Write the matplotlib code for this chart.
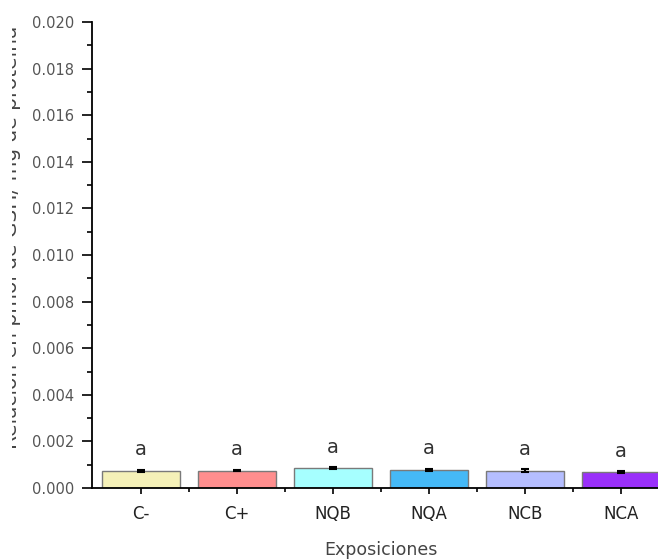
import matplotlib
matplotlib.use("Agg")
import matplotlib.pyplot as plt
from matplotlib.ticker import MultipleLocator, FixedLocator
from matplotlib.patches import Rectangle

plt.rcParams['font.family'] = ['DejaVu Sans']

categories = ["C-", "C+", "NQB", "NQA", "NCB", "NCA"]
values = [0.00074, 0.00075, 0.00085, 0.00078, 0.00075, 0.00069]
errors = [0.00004, 0.00004, 0.00005, 0.00004, 0.00005, 0.00004]
letters = ["a", "a", "a", "a", "a", "a"]
colors = ["#F5F1B8", "#FF8E8E", "#A6FFFF", "#45B9F7", "#B5BEFF", "#9A30FA"]

fig = plt.figure(figsize=(6.58, 5.60), dpi=100)
ax = fig.add_axes([92/658, 1-488/560, (669-92)/658, (488-22)/560])

x = list(range(1, len(categories)+1))
ax.bar(x, values, width=0.82, color=colors, edgecolor="#7a7a7a", linewidth=1.0, zorder=2)
ax.errorbar(x, values, yerr=errors, fmt='none', ecolor='black', elinewidth=1.5, capsize=3, capthick=1.5, zorder=3)
for xi, v, e, t in zip(x, values, errors, letters):
    ax.text(xi, v + e + 0.00045, t, ha='center', va='bottom', fontsize=14, color='#333333')

ax.set_xlim(0.49, 6.5)
ax.set_ylim(0, 0.020)
ax.yaxis.set_major_locator(MultipleLocator(0.002))
ax.yaxis.set_minor_locator(MultipleLocator(0.001))
ax.set_yticklabels([f"{v:.3f}" for v in ax.get_yticks()])
ax.set_xticks(x)
ax.set_xticklabels(categories, fontsize=12, color='#222222')
ax.xaxis.set_minor_locator(FixedLocator([1.5, 2.5, 3.5, 4.5, 5.5]))

ax.spines['top'].set_visible(False)
ax.spines['right'].set_visible(False)
ax.spines['left'].set_linewidth(1.3)
ax.spines['bottom'].set_linewidth(1.3)
ax.tick_params(axis='y', which='major', length=7, width=1.2, labelsize=10.5, labelcolor='#555555', direction='out', pad=6)
ax.tick_params(axis='y', which='minor', length=3.5, width=1.2, direction='out')
ax.tick_params(axis='x', which='major', length=4, width=1.2, direction='out', pad=8)
ax.tick_params(axis='x', which='minor', length=3, width=1.2, direction='out')

ax.set_xlabel("Exposiciones", fontsize=12.5, color='#444444', labelpad=13)
fig.text(11/658, 1-26/560, "Relación en pmol de GSH/ mg de proteína", rotation=90,
         ha='center', va='top', fontsize=14.5, color='#444444')
fig.patches.append(Rectangle((0, 0), 12/658, 1, transform=fig.transFigure,
                             facecolor='white', edgecolor='none', zorder=10))

fig.savefig("out.png", dpi=100)
